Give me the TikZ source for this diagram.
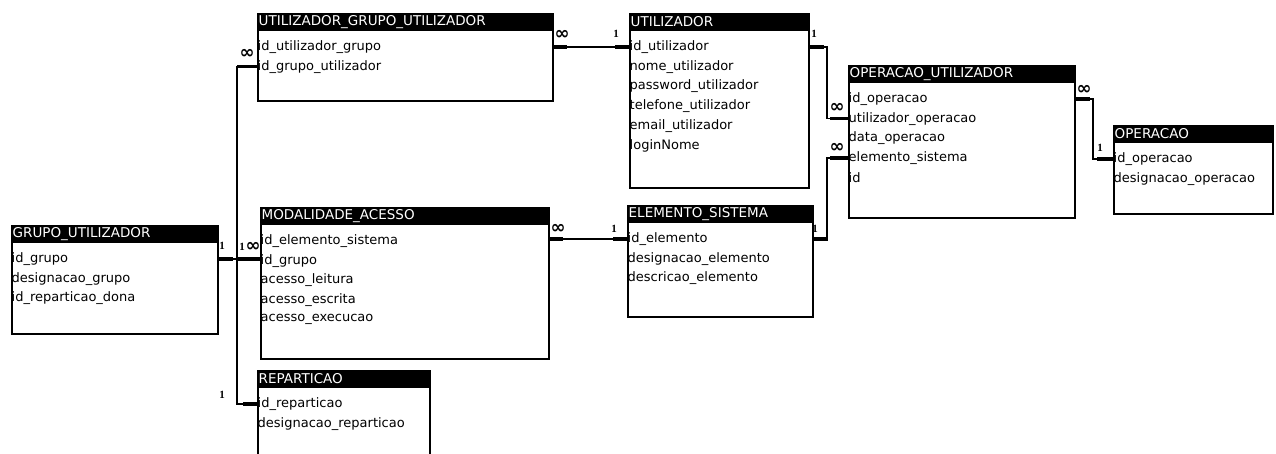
\documentclass[tikz,border=0pt]{standalone}
\usepackage{fontspec}
\setmainfont{DejaVu Sans}
\newfontfamily\lblfont{Liberation Serif}
\newfontfamily\symfont{DejaVu Sans}
\usetikzlibrary{calc}
\tikzset{
 tblbox/.style={draw=black, line width=1.6pt, fill=white, inner sep=0pt, anchor=north west},
 tblhead/.style={fill=black, inner sep=0pt, anchor=north west, minimum height=18pt},
 headtext/.style={text=white, font=\fontsize{13.5}{14}\selectfont, inner sep=0pt, anchor=west},
 rowtext/.style={font=\fontsize{13}{14}\selectfont, inner sep=0pt, anchor=west},
 conn/.style={line width=1.3pt, line join=miter},
 stub/.style={line width=3.2pt},
 one/.style={font=\lblfont\bfseries\fontsize{11}{11}\selectfont, inner sep=0pt},
 many/.style={font=\symfont\bfseries\fontsize{18}{18}\selectfont, inner sep=0pt},
}
\newcommand{\ertable}[7]{%
 \node[tblbox, minimum width=#4pt, minimum height=#5pt] (#1) at (#2,#3) {};
 \node[tblhead, minimum width=#4pt] (#1-h) at (#2,#3) {};
 \node[headtext] (#1-t) at ($(#1.north west)+(1.5,9)$) {#6};
 \foreach \r [count=\i] in {#7} {
   \node[rowtext] (#1-\i) at ($(#1.north west)+(0.5,{34+19.7*(\i-1)})$) {\r};
 }
}
\begin{document}
\begin{tikzpicture}[x=1pt,y=-1pt]
\clip (0,0) rectangle (1276,454);
\fill[white] (0,0) rectangle (1276,454);

\ertable{gu}{11}{225}{206}{108}{GRUPO\_UTILIZADOR}{id\_grupo,designacao\_grupo,id\_reparticao\_dona}
\ertable{ugu}{257}{13}{295}{87}{UTILIZADOR\_GRUPO\_UTILIZADOR}{id\_utilizador\_grupo,id\_grupo\_utilizador}
\ertable{ut}{629}{13}{179}{174}{UTILIZADOR}{id\_utilizador,nome\_utilizador,password\_utilizador,telefone\_utilizador,email\_utilizador,loginNome}
\ertable{opu}{848}{65}{226}{152}{OPERACAO\_UTILIZADOR}{id\_operacao,utilizador\_operacao,data\_operacao,elemento\_sistema,id}
\ertable{op}{1113}{125}{159}{88}{OPERACAO}{id\_operacao,designacao\_operacao}
\ertable{ma}{260}{207}{288}{151}{MODALIDADE\_ACESSO}{id\_elemento\_sistema,id\_grupo,acesso\_leitura,acesso\_escrita,acesso\_execucao}
\ertable{es}{627}{205}{185}{111}{ELEMENTO\_SISTEMA}{id\_elemento,designacao\_elemento,descricao\_elemento}
\ertable{rep}{257}{370}{172}{100}{REPARTICAO}{id\_reparticao,designacao\_reparticao}

\coordinate (trunk) at (237,0);
\coordinate (jA) at (827,0);
\coordinate (jB) at (1093,0);

% connectors
\draw[conn] (gu.east |- gu-1) -- (trunk |- gu-1) -- (trunk |- ugu-2) -- (ugu.west |- ugu-2);
\draw[conn] (trunk |- gu-1) -- (ma.west |- gu-1);
\draw[conn] (trunk |- gu-1) -- (trunk |- rep-1) -- (rep.west |- rep-1);
\draw[conn] (ugu.east |- ut-1) -- (ut.west |- ut-1);
\draw[conn] (ut.east |- ut-1) -- (jA |- ut-1) -- (jA |- opu-2) -- (opu.west |- opu-2);
\draw[conn] (es.east |- es-1) -- (jA |- es-1) -- (jA |- opu-4) -- (opu.west |- opu-4);
\draw[conn] (ma.east |- es-1) -- (es.west |- es-1);
\draw[conn] (opu.east |- opu-1) -- (jB |- opu-1) -- (jB |- op-1) -- (op.west |- op-1);

% thick end stubs
\draw[stub] (gu.east |- gu-1) -- ++(14,0);
\draw[stub] (ugu.west |- ugu-2) -- ++(-20,0);
\draw[stub] (ma.west |- gu-1) -- ++(-22,0);
\draw[stub] (rep.west |- rep-1) -- ++(-14,0);
\draw[stub] (ugu.east |- ut-1) -- ++(13,0);
\draw[stub] (ut.west |- ut-1) -- ++(-14,0);
\draw[stub] (ut.east |- ut-1) -- ++(14,0);
\draw[stub] (opu.west |- opu-2) -- ++(-18,0);
\draw[stub] (es.east |- es-1) -- ++(14,0);
\draw[stub] (opu.west |- opu-4) -- ++(-18,0);
\draw[stub] (ma.east |- es-1) -- ++(13,0);
\draw[stub] (es.west |- es-1) -- ++(-14,0);
\draw[stub] (opu.east |- opu-1) -- ++(14,0);
\draw[stub] (op.west |- op-1) -- ++(-16,0);

% cardinality labels
\node[many] (l1) at (247,54) {∞};
\node[one] (l2) at (222,246) {1};
\node[one] (l3) at (242,247) {1};
\node[many] (l4) at (253,247) {∞};
\node[one] (l5) at (222,395) {1};
\node[many] (l6) at (562,35) {∞};
\node[one] (l7) at (616,34) {1};
\node[one] (l8) at (814,34) {1};
\node[many] (l9) at (837,108) {∞};
\node[many] (l10) at (837,148) {∞};
\node[one] (l11) at (815,229) {1};
\node[many] (l12) at (558,229) {∞};
\node[one] (l13) at (614,229) {1};
\node[many] (l14) at (1084,90) {∞};
\node[one] (l15) at (1100,148) {1};
\end{tikzpicture}
\end{document}
